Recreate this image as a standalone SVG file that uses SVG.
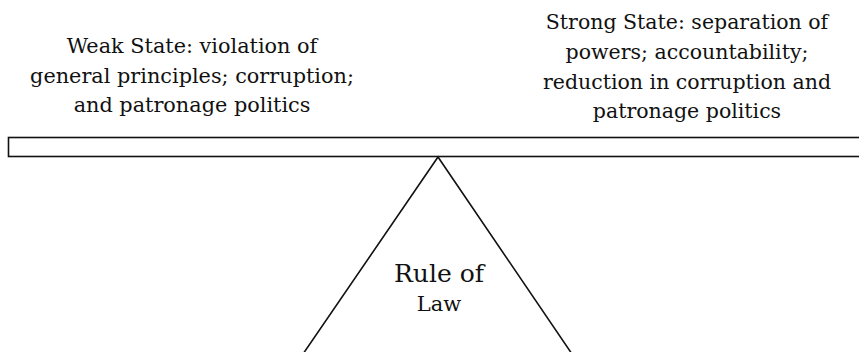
<svg xmlns="http://www.w3.org/2000/svg" width="859" height="352" viewBox="0 0 859 352">
  <style>
    .lbl { font-family: 'DejaVu Serif', 'Liberation Serif', serif; fill: #111111; text-anchor: middle; }
    .shape { fill: none; stroke: #111111; stroke-width: 1.6; }
  </style>
  <rect width="859" height="352" fill="#ffffff"/>
  <g id="weak-state">
    <text class="lbl" font-size="20.8"><tspan x="192" y="53">Weak State: violation of</tspan><tspan x="192" y="83">general principles; corruption;</tspan><tspan x="192" y="112">and patronage politics</tspan></text>
  </g>
  <g id="strong-state">
    <text class="lbl" font-size="20.5"><tspan x="687" y="29">Strong State: separation of</tspan><tspan x="687" y="59">powers; accountability;</tspan><tspan x="687" y="89">reduction in corruption and</tspan><tspan x="687" y="118">patronage politics</tspan></text>
  </g>
  <g id="beam">
    <rect class="shape" x="8.5" y="137.5" width="870" height="19"/>
  </g>
  <g id="rule-of-law">
    <polyline class="shape" points="303,354 438,157 572,354"/>
    <text class="lbl" font-size="25" x="439" y="282">Rule of</text>
    <text class="lbl" font-size="21" x="439" y="311">Law</text>
  </g>
  <g id="connectors"></g>
</svg>
